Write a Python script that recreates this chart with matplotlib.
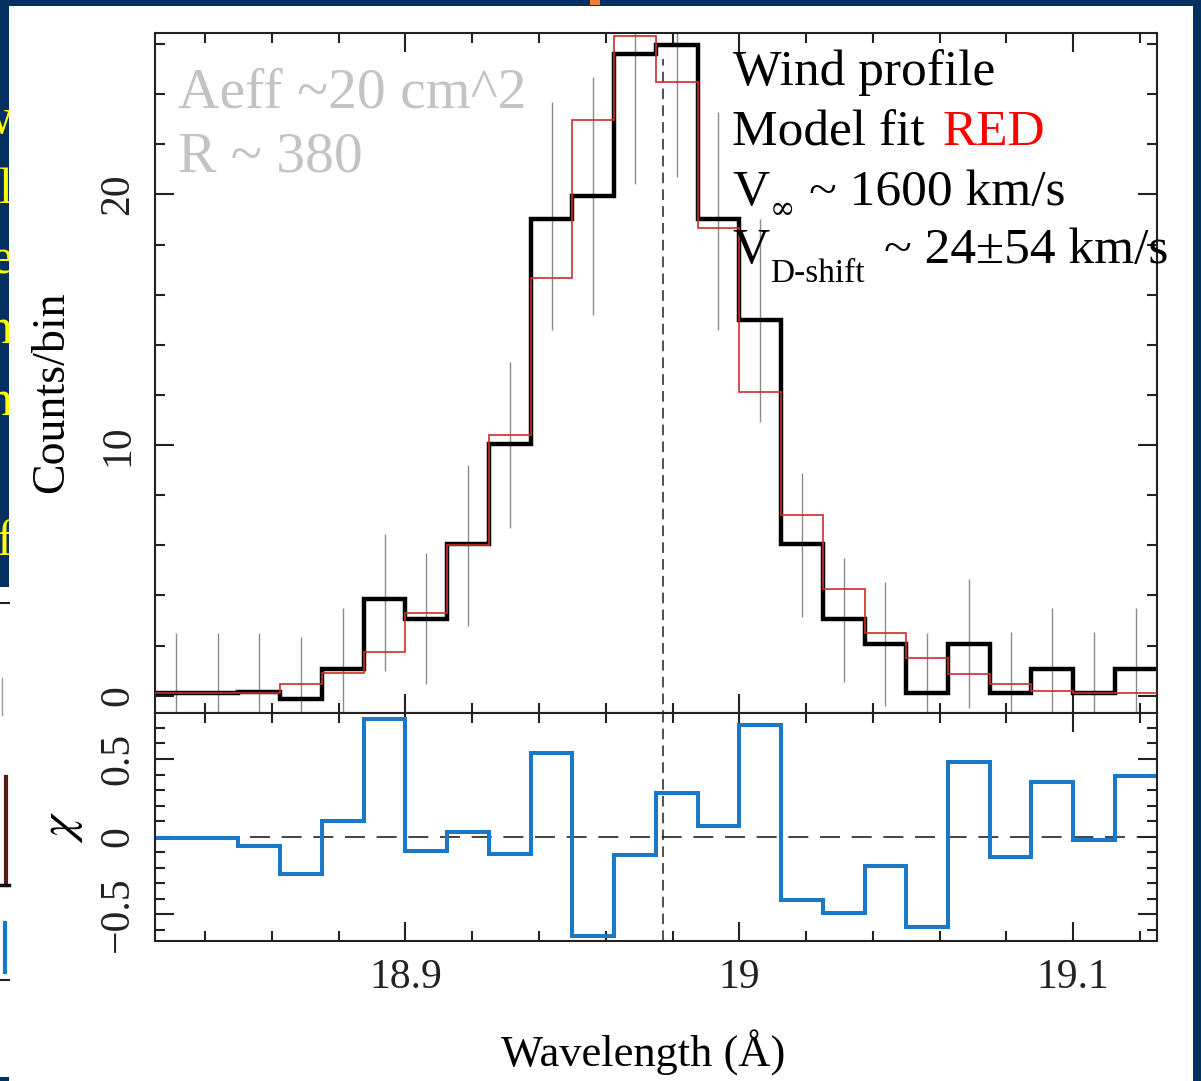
import numpy as np
import matplotlib
matplotlib.use("Agg")
import matplotlib.pyplot as plt
from matplotlib.patches import Rectangle
from matplotlib.lines import Line2D
from matplotlib.ticker import MultipleLocator

plt.rcParams['font.family'] = ['Liberation Serif', 'DejaVu Serif']
plt.rcParams['mathtext.fontset'] = 'stix'

# ---- data ----
# wavelength bin edges (Angstrom)
edges = [18.825, 18.8375, 18.85, 18.8625, 18.875, 18.8875, 18.9, 18.9125,
         18.925, 18.9375, 18.95, 18.9625, 18.975, 18.9875, 19.0, 19.0125,
         19.025, 19.0375, 19.05, 19.0625, 19.075, 19.0875, 19.1, 19.1125, 19.125]
# observed counts per bin (black)
counts = [0.1, 0.1, 0.15, -0.15, 1.05, 3.85, 3.05, 6.05, 10.05, 19.0, 19.95, 25.6,
          25.95, 19.0, 15.0, 6.05, 3.05, 2.05, 0.1, 2.05, 0.1, 1.05, 0.1, 1.05]
# wind profile model (red)
model = [0.1, 0.1, 0.1, 0.45, 0.9, 1.75, 3.3, 6.0, 10.4, 16.65, 22.95, 26.3,
         24.5, 18.65, 12.1, 7.2, 4.25, 2.5, 1.5, 0.85, 0.45, 0.2, 0.1, 0.12]
# error bar ends (grey)
err_lo = [-1, -1, -1, -1, -1, 1.0, 0.45, 2.8, 6.7, 14.6, 15.2, 20.4,
          20.7, 14.6, 10.9, 3.15, 0.55, -0.4, -1, -0.5, -1, -1, -1, -1]
err_hi = [2.5, 2.5, 2.5, 2.35, 3.5, 6.45, 5.7, 9.2, 13.3, 23.7, 24.7, 31,
          31, 23.3, 19.0, 8.9, 5.5, 4.55, 2.5, 4.65, 2.55, 3.5, 2.55, 3.5]
# residuals chi (blue)
chi = [-0.01, -0.01, -0.06, -0.24, 0.10, 0.76, -0.09, 0.03, -0.11, 0.54, -0.64, -0.12,
       0.28, 0.07, 0.72, -0.41, -0.49, -0.19, -0.58, 0.48, -0.13, 0.35, -0.02, 0.39]
line_center = 18.977
line_top = 25.4

edges = np.array(edges)
centers = (edges[:-1] + edges[1:]) / 2

W, H = 1201, 1081
navy = '#03305f'

def fx(px):
    return px / W

def fy(py):
    return 1 - py / H

def fmt(v, pos):
    return f'{v:g}'.replace('-', '\u2212')

fig = plt.figure(figsize=(W / 100, H / 100), dpi=100, facecolor=navy)

# white slide panel, with clipped yellow slide text underneath
for yb, s in [(133, 'w'), (203, 'l'), (273, 'e'), (343, 'n'), (415, 'n'), (555, 'f')]:
    fig.text(fx(13), fy(yb), s, ha='right', va='baseline', color='#ffff00',
             fontsize=36, zorder=-2)
fig.add_artist(Rectangle((fx(9), 0), fx(1193) - fx(9), fy(6), transform=fig.transFigure,
                         facecolor='white', edgecolor='none', zorder=-1))
fig.add_artist(Rectangle((0, fy(1077)), fx(9), fy(587) - fy(1077), transform=fig.transFigure,
                         facecolor='white', edgecolor='none', zorder=-1))
fig.add_artist(Rectangle((fx(590), fy(5)), fx(10), fy(0) - fy(5), transform=fig.transFigure,
                         facecolor='#e8803a', edgecolor='none', zorder=-1))
# fragments of a neighbouring plot at the far left
for xs, ys, c, lw in [([0, 9], [603, 603], '#222222', 1.5),
                      ([2, 2], [678, 715], '#999999', 1),
                      ([6, 6], [777, 885], '#5a1a14', 3),
                      ([0, 9], [885, 885], '#111111', 2.5),
                      ([5, 5], [923, 972], '#1a78c8', 3),
                      ([0, 9], [980, 980], '#222222', 1.5)]:
    fig.add_artist(Line2D([fx(v) for v in xs], [fy(v) for v in ys], transform=fig.transFigure,
                          color=c, lw=lw, zorder=-0.5))

ax1 = fig.add_axes([fx(155), fy(713), fx(1156.7) - fx(155), fy(32.7) - fy(713)])
ax2 = fig.add_axes([fx(155), fy(940.7), fx(1156.7) - fx(155), fy(713) - fy(940.7)], sharex=ax1)

# upper panel: counts
ax1.vlines(centers, err_lo, err_hi, color='#8a8a8a', lw=1.0, zorder=1)
ax1.stairs(counts, edges, baseline=None, color='black', lw=3.2, zorder=2)
ax1.stairs(model, edges, baseline=None, color='#cc2e2a', lw=1.2, zorder=3)
ax1.vlines(line_center, -1, line_top, color='#222222', lw=1.1, linestyles=(0, (7, 4)), zorder=1.5)
ax1.set_xlim(edges[0], edges[-1])
ax1.set_ylim(-0.69, 26.45)
ax1.yaxis.set_major_locator(MultipleLocator(10))
ax1.yaxis.set_minor_locator(MultipleLocator(2))

# lower panel: residuals
ax2.axhline(0, color='#222222', lw=1.2, linestyle=(0, (12, 7)), zorder=1)
ax2.axvline(line_center, color='#222222', lw=1.1, linestyle=(0, (7, 4)), zorder=1)
ax2.stairs(chi, edges, baseline=None, color='#1a78c8', lw=2.9, zorder=2)
ax2.set_ylim(-0.669, 0.796)
ax2.yaxis.set_major_locator(MultipleLocator(0.5))
ax2.yaxis.set_minor_locator(MultipleLocator(0.1))
ax2.yaxis.set_major_formatter(plt.FuncFormatter(fmt))
ax2.xaxis.set_major_locator(MultipleLocator(0.1))
ax2.xaxis.set_minor_locator(MultipleLocator(0.02))
ax2.xaxis.set_major_formatter(plt.FuncFormatter(fmt))

for ax in (ax1, ax2):
    for sp in ax.spines.values():
        sp.set_linewidth(1.5)
        sp.set_color('#222222')
    ax.tick_params(which='both', direction='in', top=True, right=True, width=1.5,
                   colors='#222222', labelsize=30)
    ax.tick_params(which='major', length=14)
    ax.tick_params(which='minor', length=7.5)
    ax.tick_params(axis='y', labelrotation=90, pad=13)
    ax.tick_params(axis='x', pad=13)
    plt.setp(ax.get_yticklabels(), va='center')
ax1.tick_params(labelbottom=False)

# axis labels
fig.text(fx(52), fy(392), 'Counts/bin', rotation=90, ha='center', va='center', fontsize=33)
fig.text(fx(62), fy(827), r'$\chi$', rotation=90, ha='center', va='center', fontsize=36)
fig.text(fx(643), fy(1067), 'Wavelength (Å)', ha='center', va='baseline', fontsize=32)

# annotations
grey = '#c3c3c3'
fig.text(fx(178), fy(107), 'Aeff ~20 cm^2', color=grey, fontsize=41.5, va='baseline')
fig.text(fx(178), fy(172), 'R ~ 380', color=grey, fontsize=41.5, va='baseline')
fig.text(fx(733), fy(85), 'Wind profile', fontsize=37, va='baseline')
fig.text(fx(732), fy(145), 'Model fit ', fontsize=37, va='baseline')
fig.text(fx(943), fy(145), 'RED', color='#ff0000', fontsize=37, va='baseline')
fig.text(fx(732), fy(205), 'V', fontsize=37, va='baseline')
fig.text(fx(770), fy(218), '∞', fontsize=22, va='baseline', family=['DejaVu Serif'])
fig.text(fx(809), fy(205), '~ 1600 km/s', fontsize=37, va='baseline')
fig.text(fx(732), fy(263), 'V', fontsize=37, va='baseline')
fig.text(fx(770), fy(282), 'D-shift', fontsize=24, va='baseline')
fig.text(fx(884), fy(263), '~ 24±54 km/s', fontsize=37, va='baseline')

fig.savefig('out.png', dpi=100, facecolor=fig.get_facecolor())
